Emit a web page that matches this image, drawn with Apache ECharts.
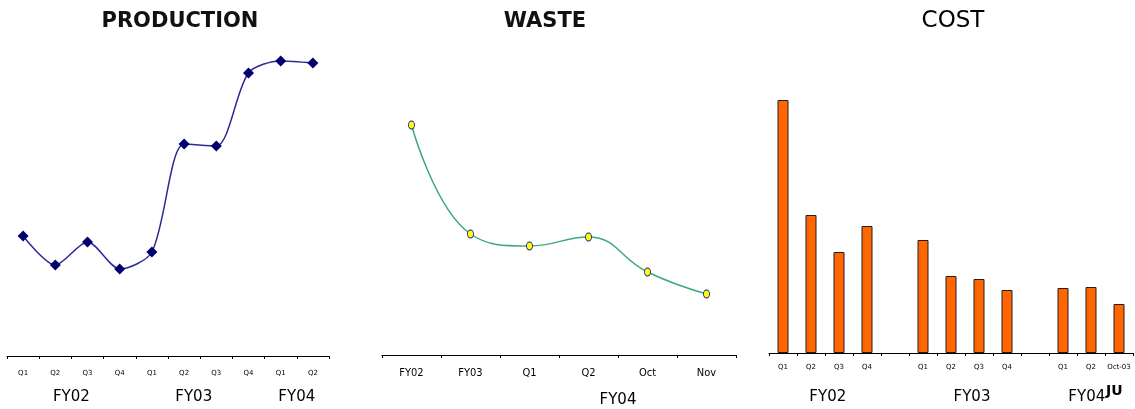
<!DOCTYPE html>
<html>
<head>
<meta charset="utf-8">
<title>Production, Waste and Cost</title>
<script src="https://cdn.jsdelivr.net/npm/echarts@6/dist/echarts.min.js"></script>
<style>
  html, body { margin: 0; padding: 0; background: #ffffff; }
  #chart { width: 1135px; height: 409px; }
</style>
</head>
<body>
<div id="chart"></div>
<script>
// ---- Production: quarterly output, FY02 to FY04 ----
const prodQuarters = ['Q1', 'Q2', 'Q3', 'Q4', 'Q1', 'Q2', 'Q3', 'Q4', 'Q1', 'Q2'];
const prodValues = [120, 91, 114, 87, 104, 212, 210, 283, 295, 293];
const prodYears = ['FY02', 'FY03', 'FY04'];
const prodYearPos = [2, 5.8, 9];

// ---- Waste: yearly, then FY04 detail ----
const wasteCategories = ['FY02', 'FY03', 'Q1', 'Q2', 'Oct', 'Nov'];
const wasteValues = [230, 121, 109, 118, 83, 61];
const wasteYears = ['FY04'];
const wasteYearPos = [4];

// ---- Cost: quarterly, with a blank slot between fiscal years ----
const costCategories = ['Q1', 'Q2', 'Q3', 'Q4', '', 'Q1', 'Q2', 'Q3', 'Q4', '', 'Q1', 'Q2', 'Oct-03'];
const costValues = [253, 138, 101, 127, null, 113, 77, 74, 63, null, 65, 66, 49];
const costYears = ['FY02', 'FY03', 'FY04'];
const costYearPos = [2.1, 7.25, 11.35];

const VMAX = 300;
const tickFont = 'DejaVu Sans';
const yearFont = 'DejaVu Sans';

function quarterAxis(gridIndex, data, margin, fontSize, fontFamily) {
  return {
    type: 'category', gridIndex: gridIndex, data: data, position: 'bottom',
    boundaryGap: true,
    axisLine: { show: true, lineStyle: { color: '#000', width: 1 } },
    axisTick: { show: true, length: 3, lineStyle: { color: '#000' } },
    axisLabel: { show: true, interval: 0, margin: margin, color: '#000',
                 fontSize: fontSize, fontFamily: fontFamily },
    splitLine: { show: false }
  };
}

function yearAxis(gridIndex, max, names, positions, margin) {
  return {
    type: 'value', gridIndex: gridIndex, position: 'bottom', min: 0, max: max,
    axisLine: { show: false }, axisTick: { show: false }, splitLine: { show: false },
    axisLabel: {
      show: true, margin: margin, color: '#000', fontSize: 15, fontFamily: yearFont,
      customValues: positions,
      formatter: function (v) {
        const i = positions.indexOf(v);
        return i >= 0 ? names[i] : '';
      }
    }
  };
}

function hiddenY(gridIndex) {
  return {
    type: 'value', gridIndex: gridIndex, min: 0, max: VMAX, show: false,
    splitLine: { show: false }
  };
}

const chart = echarts.init(document.getElementById('chart'), null, { renderer: 'canvas' });

chart.setOption({
  backgroundColor: '#ffffff',
  animation: false,
  title: [
    { text: 'PRODUCTION', left: 180, top: 11, textAlign: 'center', padding: 0,
      textStyle: { fontFamily: 'DejaVu Sans', fontWeight: 'bold', fontSize: 21, color: '#111' } },
    { text: 'WASTE', left: 545, top: 11, textAlign: 'center', padding: 0,
      textStyle: { fontFamily: 'DejaVu Sans', fontWeight: 'bold', fontSize: 21, color: '#111' } },
    { text: 'COST', left: 953, top: 10, textAlign: 'center', padding: 0,
      textStyle: { fontFamily: 'DejaVu Sans', fontWeight: 'normal', fontSize: 23, color: '#000' } }
  ],
  grid: [
    { left: 7, width: 322, top: 56, height: 300, containLabel: false, outerBoundsMode: 'none' },
    { left: 382, width: 354, top: 55, height: 300, containLabel: false, outerBoundsMode: 'none' },
    { left: 769, width: 364, top: 53, height: 300, containLabel: false, outerBoundsMode: 'none' }
  ],
  xAxis: [
    quarterAxis(0, prodQuarters, 14, 7, tickFont),
    quarterAxis(1, wasteCategories, 13, 11, "'Liberation Sans Narrow', 'DejaVu Sans Condensed', 'Liberation Sans'"),
    quarterAxis(2, costCategories, 11, 7, tickFont),
    yearAxis(0, prodQuarters.length, prodYears, prodYearPos, 34),
    yearAxis(1, wasteCategories.length, wasteYears, wasteYearPos, 38),
    yearAxis(2, costCategories.length, costYears, costYearPos, 37)
  ],
  yAxis: [hiddenY(0), hiddenY(1), hiddenY(2)],
  series: [
    {
      name: 'Production', type: 'line', xAxisIndex: 0, yAxisIndex: 0,
      data: prodValues, smooth: 0.28,
      symbol: 'diamond', symbolSize: [11, 11],
      lineStyle: { color: '#2a2a98', width: 1.5 },
      itemStyle: { color: '#00006e' }
    },
    {
      name: 'Waste', type: 'line', xAxisIndex: 1, yAxisIndex: 1,
      data: wasteValues, smooth: 0.45,
      symbol: 'circle', symbolSize: [6, 8],
      lineStyle: { color: '#3caa78', width: 1.5 },
      itemStyle: { color: '#ffff00', borderColor: '#1a1aa8', borderWidth: 1 }
    },
    {
      name: 'Cost', type: 'bar', xAxisIndex: 2, yAxisIndex: 2,
      data: costValues, barWidth: 11,
      itemStyle: { color: '#ff6600', borderColor: '#1e1e1e', borderWidth: 1 }
    }
  ],
  graphic: [
    { type: 'text', left: 1106, top: 384,
      style: { text: 'JU', fontFamily: 'DejaVu Sans', fontWeight: 'bold', fontSize: 14, fill: '#000' } }
  ]
});
</script>
</body>
</html>
